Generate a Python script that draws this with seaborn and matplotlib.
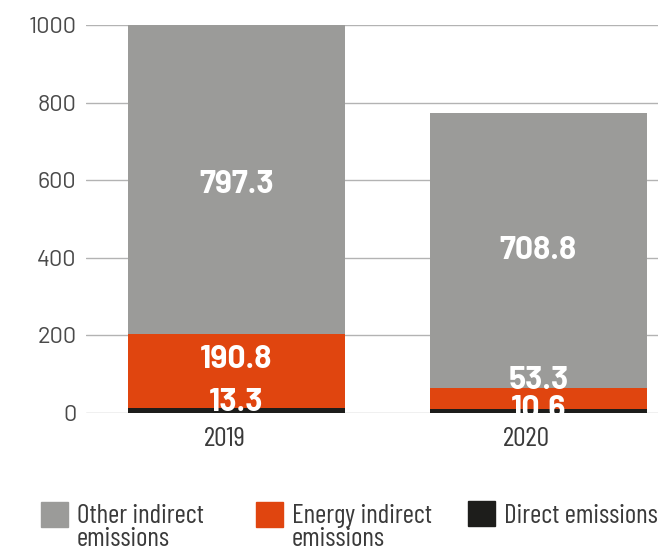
import matplotlib
matplotlib.use("Agg")
import matplotlib.pyplot as plt
import matplotlib.transforms as mtrans
import seaborn as sns
import pandas as pd
from matplotlib import font_manager
from matplotlib.patches import Rectangle, Patch
from matplotlib.legend_handler import HandlerPatch

# ---- data ----
years = ["2019", "2020"]
direct = [13.3, 10.6]
energy = [190.8, 53.3]
other = [797.3, 708.8]
series_names = ["Other indirect\nemissions", "Energy indirect\nemissions", "Direct emissions"]
y_ticks = [0, 200, 400, 600, 800, 1000]

# ---- label anchor heights (data units) ----
label_y_direct = [26, 8]
label_y_energy = [137, 85]
label_y_other = [588, 420]

col_other = "#9b9b99"
col_energy = "#e0450f"
col_direct = "#1d1d1b"

sns.set_theme(style="white")
names = {f.name for f in font_manager.fontManager.ttflist}


def pick(cands, default="DejaVu Sans"):
    for c in cands:
        if c in names:
            return c
    return default


narrow = pick(["Barlow Condensed", "Barlow Semi Condensed", "Roboto Condensed",
               "Archivo Narrow", "Asap Condensed", "Saira SemiCondensed"])
regular = pick(["Barlow", "Saira", "Roboto"])
plt.rcParams["font.family"] = [regular, "DejaVu Sans"]

fig = plt.figure(figsize=(6.58, 5.52), dpi=100)
ax = fig.add_axes([86 / 658, 139 / 552, 572 / 658, 388 / 552])

df = pd.DataFrame({"year": years, "direct": direct, "energy": energy, "other": other})
df["c_energy"] = df["direct"] + df["energy"]
df["c_other"] = df["c_energy"] + df["other"]

for col, colr in [("c_other", col_other), ("c_energy", col_energy), ("direct", col_direct)]:
    sns.barplot(data=df, x="year", y=col, color=colr, width=0.72, saturation=1,
                linewidth=0, errorbar=None, ax=ax, zorder=2)

ax.set_xlim(-0.498, 1.396)
ax.set_ylim(0, 1000)
ax.set_yticks(y_ticks)
ax.set_xlabel("")
ax.set_ylabel("")
ax.set_axisbelow(True)
ax.yaxis.grid(True, color="#b3b3b3", linewidth=1.0)
ax.xaxis.grid(False)
for s in ax.spines.values():
    s.set_visible(False)

ax.tick_params(axis="y", length=0, pad=7, labelsize=17, labelcolor="#4a4a4a")
ax.tick_params(axis="x", length=0, pad=10, labelcolor="#3a3a3a")
shift = mtrans.ScaledTranslation(-12 / 100, 0, fig.dpi_scale_trans)
for t in ax.get_xticklabels():
    t.set_fontfamily(narrow)
    t.set_fontsize(20)
    t.set_transform(t.get_transform() + shift)

# value labels
val_size = 23 if regular != "DejaVu Sans" else 17
for vals, ys in [(direct, label_y_direct), (energy, label_y_energy), (other, label_y_other)]:
    for i, (v, yv) in enumerate(zip(vals, ys)):
        ax.text(i, yv, f"{v:.1f}", ha="center", va="center", color="white",
                fontsize=val_size, fontweight="bold", clip_on=True, zorder=5)


# legend
def square_two(legend, orig_handle, xdescent, ydescent, width, height, fontsize):
    return Rectangle((-xdescent, 0.36 * fontsize), width, 0.93 * fontsize)


def square_one(legend, orig_handle, xdescent, ydescent, width, height, fontsize):
    return Rectangle((-xdescent, -0.12 * fontsize), width, 0.93 * fontsize)


handles = [Patch(color=col_other), Patch(color=col_energy), Patch(color=col_direct)]
x_anchor = [41, 256, 468]
for h, lab, xa in zip(handles, series_names, x_anchor):
    func = square_two if "\n" in lab else square_one
    leg = fig.legend(handles=[h], labels=[lab], loc="upper left",
                     bbox_to_anchor=(xa / 658, 1 - 504 / 552),
                     frameon=False, borderpad=0, borderaxespad=0,
                     handlelength=1.0, handletextpad=0.33,
                     handler_map={Patch: HandlerPatch(patch_func=func)},
                     prop={"family": narrow, "size": 19.5})
    for t in leg.get_texts():
        t.set_color("#3a3a3a")
        t.set_linespacing(0.95)

fig.savefig("out.png", dpi=100)
